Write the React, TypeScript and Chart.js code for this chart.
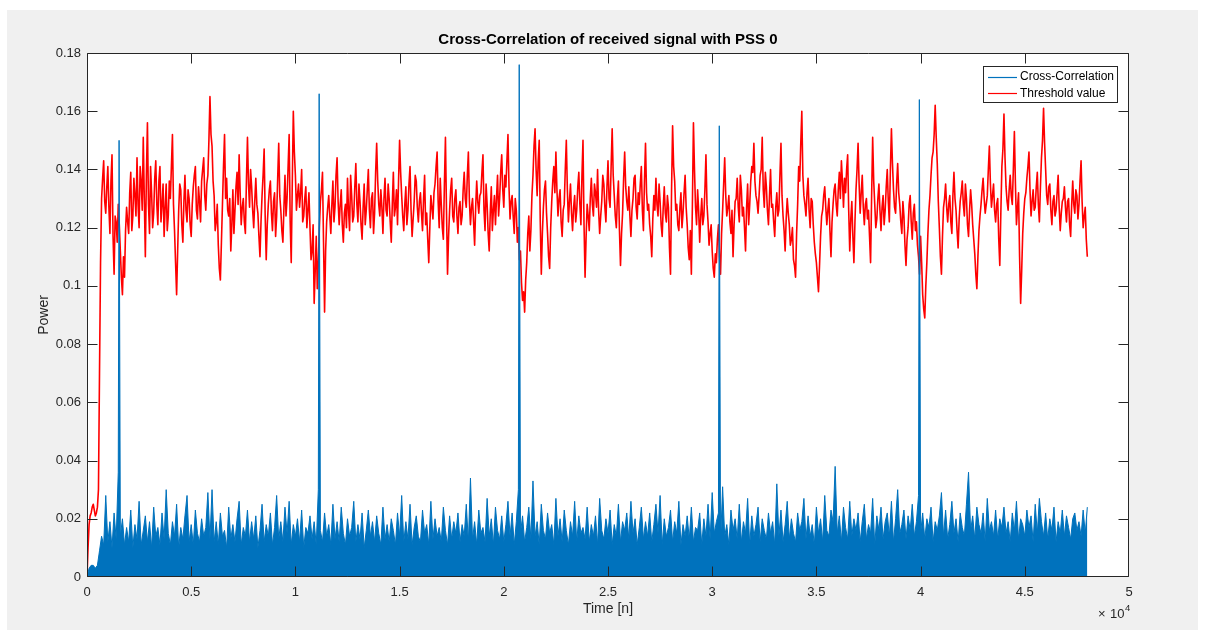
import React, { useEffect, useRef } from "react";
import { Chart, registerables } from "chart.js";

Chart.register(...registerables);

// ---------------- DATA ----------------
// sample spacing of the arrays below (in samples n)
const SAMPLE_STEP = 100;

// Threshold value, in units of 1e-3, at n = 0, 100, 200 … 48000
const thresholdMilli = [
  0, 18, 22, 25, 21, 24, 70, 130, 143, 125, 141, 118, 145, 104, 122, 128, 112, 97, 103, 127,
  118, 139, 124, 131, 144, 120, 136, 151, 110, 156, 118, 132, 125, 143, 121, 141, 128, 117, 135, 124,
  130, 152, 119, 97, 126, 133, 115, 138, 122, 130, 117, 134, 141, 123, 129, 136, 144, 126, 138, 165,
  148, 131, 122, 114, 102, 128, 152, 137, 124, 112, 133, 126, 139, 145, 121, 130, 118, 151, 127, 134,
  120, 137, 125, 110, 131, 147, 109, 128, 136, 119, 132, 124, 149, 126, 115, 138, 130, 152, 108, 160,
  138, 131, 127, 140, 124, 134, 126, 120, 112, 94, 117, 108, 129, 139, 91, 122, 131, 118, 136, 127,
  144, 121, 133, 115, 128, 137, 119, 131, 124, 142, 122, 129, 116, 135, 126, 140, 120, 132, 125, 149,
  128, 133, 118, 137, 124, 130, 115, 139, 127, 121, 150, 131, 119, 134, 126, 141, 117, 129, 136, 122,
  132, 119, 138, 125, 108, 131, 123, 135, 146, 120, 128, 116, 151, 104, 126, 137, 122, 133, 118, 129,
  124, 139, 127, 146, 121, 130, 114, 136, 125, 132, 145, 119, 128, 112, 134, 126, 121, 138, 130, 145,
  127, 134, 152, 123, 131, 118, 126, 120, 112, 95, 91, 108, 124, 119, 138, 154, 131, 150, 104, 127,
  136, 118, 106, 129, 141, 146, 124, 133, 117, 128, 150, 122, 135, 119, 131, 126, 139, 121, 150, 103,
  128, 119, 137, 124, 132, 140, 118, 129, 135, 122, 143, 127, 154, 131, 120, 136, 107, 125, 146, 129,
  134, 117, 130, 138, 123, 128, 141, 119, 149, 126, 121, 110, 131, 137, 124, 129, 117, 134, 122, 127,
  104, 155, 136, 128, 119, 132, 125, 138, 121, 109, 104, 156, 127, 133, 115, 130, 124, 145, 122, 118,
  112, 103, 108, 121, 104, 126, 144, 124, 131, 118, 110, 129, 137, 122, 133, 127, 112, 135, 128, 141,
  149, 131, 125, 138, 151, 127, 134, 121, 140, 128, 117, 132, 126, 149, 124, 112, 130, 121, 116, 109,
  103, 128, 136, 160, 131, 124, 137, 120, 129, 115, 108, 98, 117, 126, 134, 121, 130, 110, 128, 135,
  124, 139, 143, 127, 132, 145, 112, 129, 108, 133, 149, 125, 138, 121, 130, 126, 108, 151, 128, 123,
  135, 119, 131, 126, 140, 122, 154, 133, 125, 142, 128, 118, 124, 107, 120, 131, 116, 128, 122, 110,
  117, 97, 89, 108, 126, 138, 146, 162, 142, 120, 104, 127, 135, 122, 131, 118, 139, 126, 113, 129,
  136, 124, 130, 117, 133, 121, 111, 99, 119, 128, 137, 125, 131, 148, 127, 135, 122, 130, 107, 141,
  159, 134, 126, 138, 128, 153, 121, 132, 94, 118, 130, 137, 146, 124, 133, 127, 139, 122, 144, 161,
  140, 128, 135, 121, 131, 126, 138, 119, 129, 134, 122, 130, 117, 136, 125, 131, 128, 143, 120, 127,
  110,
];

// Threshold value, in units of 1e-3, at n = 50, 150, 250 … 47950
const thresholdMidMilli = [
  10, 21, 24, 23, 22, 30, 108, 137, 129, 134, 127, 136, 117, 124, 115, 121, 103, 110, 119, 122,
  132, 119, 137, 124, 128, 141, 126, 130, 138, 128, 141, 120, 137, 128, 136, 122, 135, 127, 119, 136,
  141, 128, 108, 112, 135, 121, 129, 126, 133, 121, 128, 138, 126, 134, 122, 140, 131, 135, 150, 152,
  136, 119, 128, 106, 115, 141, 130, 126, 130, 121, 118, 134, 128, 132, 127, 122, 136, 135, 140, 126,
  129, 128, 117, 122, 138, 124, 121, 133, 125, 129, 117, 137, 131, 119, 127, 124, 141, 122, 135, 146,
  126, 135, 132, 122, 130, 120, 132, 109, 121, 105, 99, 120, 133, 115, 112, 127, 124, 128, 122, 138,
  129, 128, 121, 125, 120, 126, 138, 122, 134, 128, 135, 121, 127, 121, 133, 126, 130, 118, 139, 136,
  124, 127, 130, 126, 135, 122, 128, 124, 133, 136, 139, 124, 128, 121, 135, 126, 123, 138, 127, 129,
  125, 130, 121, 116, 120, 127, 132, 141, 129, 137, 120, 135, 126, 117, 133, 124, 130, 124, 127, 121,
  133, 130, 138, 129, 127, 122, 127, 129, 131, 139, 126, 135, 118, 125, 119, 131, 130, 124, 139, 133,
  138, 143, 134, 129, 124, 130, 115, 109, 101, 98, 102, 118, 112, 131, 148, 140, 143, 122, 118, 133,
  125, 110, 120, 136, 132, 133, 130, 122, 126, 140, 133, 129, 125, 127, 122, 134, 128, 138, 121, 117,
  124, 130, 128, 135, 127, 126, 124, 138, 127, 134, 130, 141, 138, 124, 130, 119, 118, 137, 134, 126,
  124, 126, 137, 127, 132, 135, 126, 136, 132, 128, 117, 123, 126, 128, 135, 121, 127, 125, 131, 113,
  133, 141, 126, 121, 127, 120, 132, 127, 113, 119, 128, 140, 121, 126, 124, 121, 133, 128, 114, 121,
  106, 111, 116, 110, 118, 135, 131, 127, 122, 126, 121, 130, 127, 138, 124, 120, 127, 121, 136, 139,
  136, 129, 131, 140, 133, 139, 126, 131, 127, 122, 127, 124, 138, 131, 119, 123, 125, 114, 120, 107,
  118, 141, 149, 138, 128, 132, 126, 130, 121, 111, 103, 107, 124, 131, 127, 126, 119, 122, 133, 128,
  133, 130, 136, 137, 140, 126, 123, 117, 122, 140, 135, 132, 127, 128, 123, 117, 131, 136, 120, 130,
  126, 127, 121, 134, 129, 140, 142, 127, 135, 132, 122, 129, 114, 116, 128, 122, 125, 119, 114, 104,
  108, 92, 100, 118, 131, 144, 152, 151, 129, 110, 117, 130, 127, 128, 122, 131, 130, 119, 123, 132,
  128, 135, 121, 126, 128, 116, 104, 110, 124, 133, 130, 128, 140, 135, 131, 126, 128, 116, 125, 147,
  144, 129, 133, 131, 140, 135, 127, 110, 105, 125, 132, 141, 133, 129, 126, 134, 128, 134, 150, 149,
  131, 134, 126, 129, 124, 132, 127, 125, 130, 127, 129, 121, 128, 128, 133, 123, 136, 129, 124, 116,
];

// Cross-correlation envelope (peak per SAMPLE_STEP block), in units of 1e-3
const corrEnvelopeMilli = [
  0, 3, 4, 4, 3, 4, 9, 14, 11, 28, 12, 19, 10, 22, 13, 36, 14, 20, 11, 17,
  12, 23, 10, 18, 13, 26, 11, 16, 21, 12, 19, 10, 24, 14, 17, 11, 22, 13, 30, 15,
  11, 19, 14, 25, 10, 17, 13, 21, 28, 12, 18, 11, 23, 15, 12, 20, 14, 17, 29, 13,
  30, 12, 19, 11, 22, 14, 16, 10, 24, 13, 18, 12, 20, 26, 11, 17, 14, 23, 12, 19,
  13, 21, 10, 16, 25, 12, 18, 14, 22, 11, 17, 28, 13, 19, 12, 24, 15, 26, 11, 18,
  14, 20, 12, 23, 10, 17, 15, 21, 13, 19, 11, 30, 16, 12, 22, 14, 18, 11, 25, 13,
  19, 12, 24, 15, 11, 20, 14, 17, 26, 12, 18, 13, 22, 10, 16, 23, 14, 19, 12, 21,
  15, 11, 24, 13, 18, 12, 20, 16, 11, 22, 14, 28, 12, 19, 13, 25, 11, 17, 21, 14,
  12, 23, 15, 18, 11, 26, 13, 20, 14, 17, 12, 24, 16, 11, 21, 13, 19, 15, 22, 12,
  18, 14, 25, 12, 34, 13, 19, 11, 23, 15, 17, 12, 27, 14, 20, 11, 24, 16, 13, 21,
  12, 18, 26, 14, 22, 11, 19, 30, 15, 21, 12, 17, 24, 13, 33, 14, 19, 11, 25, 16,
  13, 22, 15, 18, 11, 27, 14, 20, 12, 23, 16, 11, 19, 14, 26, 12, 21, 15, 17, 13,
  24, 12, 18, 14, 21, 11, 27, 16, 13, 20, 15, 23, 11, 18, 14, 25, 12, 19, 16, 22,
  13, 26, 15, 20, 11, 17, 24, 13, 19, 14, 22, 12, 18, 25, 15, 28, 11, 20, 14, 17,
  23, 12, 19, 15, 26, 11, 18, 14, 21, 13, 24, 12, 17, 16, 22, 11, 20, 14, 25, 13,
  29, 15, 19, 22, 12, 31, 14, 18, 11, 23, 16, 20, 13, 25, 12, 19, 15, 27, 11, 21,
  14, 18, 24, 12, 20, 16, 13, 22, 15, 19, 11, 32, 14, 23, 12, 18, 26, 13, 20, 15,
  12, 22, 16, 19, 27, 13, 21, 14, 18, 11, 24, 15, 20, 12, 28, 16, 14, 23, 19, 38,
  15, 21, 12, 24, 17, 13, 26, 14, 20, 16, 22, 12, 19, 25, 13, 18, 15, 27, 11, 21,
  16, 24, 13, 19, 22, 14, 26, 12, 20, 30, 15, 18, 23, 13, 21, 16, 25, 14, 19, 28,
  15, 22, 13, 20, 17, 24, 12, 19, 16, 21, 29, 14, 23, 13, 18, 26, 15, 20, 12, 22,
  17, 14, 25, 36, 16, 21, 13, 24, 18, 15, 22, 12, 27, 16, 19, 14, 23, 13, 20, 17,
  24, 15, 19, 12, 22, 16, 26, 13, 20, 18, 14, 23, 17, 21, 12, 25, 15, 27, 19, 14,
  22, 13, 20, 16, 24, 12, 19, 15, 23, 14, 21, 17, 13, 20, 22, 16, 19, 14, 23, 15,
  24,
];

// PSS correlation peaks (sample index, power)
const syncPeakSamples = [1540, 11140, 20740, 30340, 39940];
const syncPeakPower = [0.15, 0.166, 0.176, 0.155, 0.164];

// axis ticks
const xTickStep = 5000;
const yTickStep = 0.02;

const TITLE = "Cross-Correlation of received signal with PSS 0";
const SERIES_LABELS = ["Cross-Correlation", "Threshold value"];
const SERIES_COLORS = ["#0072BD", "#FF0000"];

// ---------------- STYLE ----------------
const FONT = "'Liberation Sans', Arial, Helvetica, sans-serif";
const AXIS_COLOR = "#262626";

const framePlugin = {
  id: "matlabFrame",
  beforeDraw(chart: any) {
    const { ctx, chartArea: a, width, height } = chart;
    ctx.save();
    ctx.fillStyle = "#ffffff";
    ctx.fillRect(0, 0, width, height);
    ctx.fillStyle = "#f0f0f0";
    ctx.fillRect(7, 10, 1191, 620);
    ctx.fillStyle = "#ffffff";
    ctx.fillRect(a.left, a.top, a.right - a.left, a.bottom - a.top);
    // title, centred over the axes
    ctx.fillStyle = "#000000";
    ctx.font = `bold 15px ${FONT}`;
    ctx.textAlign = "center";
    ctx.textBaseline = "middle";
    ctx.fillText(chart.options.plugins.title.text, (a.left + a.right) / 2, a.top - 13);
    ctx.restore();
  },
  afterDatasetsDraw(chart: any) {
    const { ctx, chartArea: a, scales } = chart;
    const xs = scales.x;
    const ys = scales.y;
    const L = Math.round(a.left) + 0.5;
    const R = Math.round(a.right) - 0.5;
    const T = Math.round(a.top) + 0.5;
    const B = Math.round(a.bottom) - 0.5;
    const tl = 10;
    const clamp = (v: number, lo: number, hi: number) => Math.min(hi, Math.max(lo, v));
    ctx.save();
    ctx.strokeStyle = AXIS_COLOR;
    ctx.lineWidth = 1;
    ctx.beginPath();
    ctx.rect(L, T, R - L, B - T);
    xs.ticks.forEach((t: any) => {
      const px = clamp(Math.round(xs.getPixelForValue(t.value)) + 0.5, L, R);
      ctx.moveTo(px, B);
      ctx.lineTo(px, B - tl);
      ctx.moveTo(px, T);
      ctx.lineTo(px, T + tl);
    });
    ys.ticks.forEach((t: any) => {
      const py = clamp(Math.round(ys.getPixelForValue(t.value)) + 0.5, T, B);
      ctx.moveTo(L, py);
      ctx.lineTo(L + tl, py);
      ctx.moveTo(R, py);
      ctx.lineTo(R - tl, py);
    });
    ctx.stroke();

    // legend (inside, top-right)
    const lw = 134;
    const lh = 36;
    const lx = Math.round(a.right) - 146;
    const ly = Math.round(a.top) + 13;
    ctx.fillStyle = "#ffffff";
    ctx.fillRect(lx, ly, lw, lh);
    ctx.strokeStyle = AXIS_COLOR;
    ctx.lineWidth = 1;
    ctx.strokeRect(lx + 0.5, ly + 0.5, lw, lh);
    ctx.font = `12px ${FONT}`;
    ctx.textBaseline = "middle";
    ctx.textAlign = "left";
    chart.data.datasets.forEach((ds: any, i: number) => {
      const y = ly + 10.5 + i * 16.5;
      ctx.strokeStyle = SERIES_COLORS[i];
      ctx.lineWidth = 1.2;
      ctx.beginPath();
      ctx.moveTo(lx + 5, Math.round(y) + 0.5);
      ctx.lineTo(lx + 34, Math.round(y) + 0.5);
      ctx.stroke();
      ctx.fillStyle = "#000000";
      ctx.fillText(ds.label, lx + 37, y + 0.5);
    });

    // x exponent label
    ctx.fillStyle = AXIS_COLOR;
    ctx.font = `13px ${FONT}`;
    ctx.fillText("\u00d7", a.right - 31, a.bottom + 37);
    ctx.fillText("10", a.right - 19, a.bottom + 37);
    ctx.font = `9.5px ${FONT}`;
    ctx.fillText("4", a.right - 4, a.bottom + 31);
    ctx.restore();
  },
};

function buildCorrelation() {
  const pts: { x: number; y: number }[] = corrEnvelopeMilli.map((v, i) => ({
    x: i * SAMPLE_STEP,
    y: v / 1000,
  }));
  syncPeakSamples.forEach((n, k) => pts.push({ x: n, y: syncPeakPower[k] }));
  pts.sort((p, q) => p.x - q.x);
  return pts;
}

function buildThreshold() {
  const pts: { x: number; y: number }[] = thresholdMilli.map((v, i) => ({
    x: i * SAMPLE_STEP,
    y: v / 1000,
  }));
  thresholdMidMilli.forEach((v, i) => pts.push({ x: i * SAMPLE_STEP + SAMPLE_STEP / 2, y: v / 1000 }));
  pts.sort((p, q) => p.x - q.x);
  return pts;
}

export default function App() {
  const canvasRef = useRef<HTMLCanvasElement | null>(null);

  useEffect(() => {
    if (!canvasRef.current) return;
    const chart = new Chart(canvasRef.current, {
      type: "line",
      data: {
        datasets: [
          {
            label: SERIES_LABELS[0],
            data: buildCorrelation(),
            borderColor: SERIES_COLORS[0],
            backgroundColor: SERIES_COLORS[0],
            borderWidth: 1,
            fill: "origin",
            pointRadius: 0,
            tension: 0,
            borderJoinStyle: "round",
          },
          {
            label: SERIES_LABELS[1],
            data: buildThreshold(),
            borderColor: SERIES_COLORS[1],
            backgroundColor: SERIES_COLORS[1],
            borderWidth: 1.6,
            fill: false,
            pointRadius: 0,
            tension: 0,
            borderJoinStyle: "round",
          },
        ],
      },
      options: {
        responsive: false,
        animation: false,
        events: [],
        parsing: false,
        normalized: true,
        layout: { padding: { top: 53, right: 76, bottom: 0, left: 0 } },
        plugins: {
          legend: { display: false },
          tooltip: { enabled: false },
          title: { display: false, text: TITLE },
        },
        scales: {
          x: {
            type: "linear",
            min: 0,
            max: 50000,
            grid: { display: false, drawTicks: false },
            border: { display: false },
            ticks: {
              stepSize: xTickStep,
              autoSkip: false,
              maxRotation: 0,
              padding: 8,
              color: AXIS_COLOR,
              font: { family: FONT, size: 13 },
              callback: (v: any) => String(Number(v) / 10000),
            },
            title: {
              display: true,
              text: "Time [n]",
              color: AXIS_COLOR,
              font: { family: FONT, size: 14 },
              padding: { top: 0, bottom: 12.6 },
            },
            afterFit: (s: any) => {
              s.height = 53;
            },
          },
          y: {
            type: "linear",
            min: 0,
            max: 0.18,
            grid: { display: false, drawTicks: false },
            border: { display: false },
            ticks: {
              stepSize: yTickStep,
              autoSkip: false,
              padding: 6,
              color: AXIS_COLOR,
              font: { family: FONT, size: 13 },
              callback: (v: any) => String(Number(Number(v).toFixed(2))),
            },
            title: {
              display: true,
              text: "Power",
              color: AXIS_COLOR,
              font: { family: FONT, size: 14 },
              padding: { top: 35.6, bottom: 0 },
            },
            afterFit: (s: any) => {
              s.width = 87;
            },
          },
        },
      } as any,
      plugins: [framePlugin],
    });
    return () => chart.destroy();
  }, []);

  return (
    <div style={{ position: "absolute", left: 0, top: 0, width: 1205, height: 630 }}>
      <canvas ref={canvasRef} width={1205} height={630} style={{ width: 1205, height: 630, display: "block" }} />
    </div>
  );
}
